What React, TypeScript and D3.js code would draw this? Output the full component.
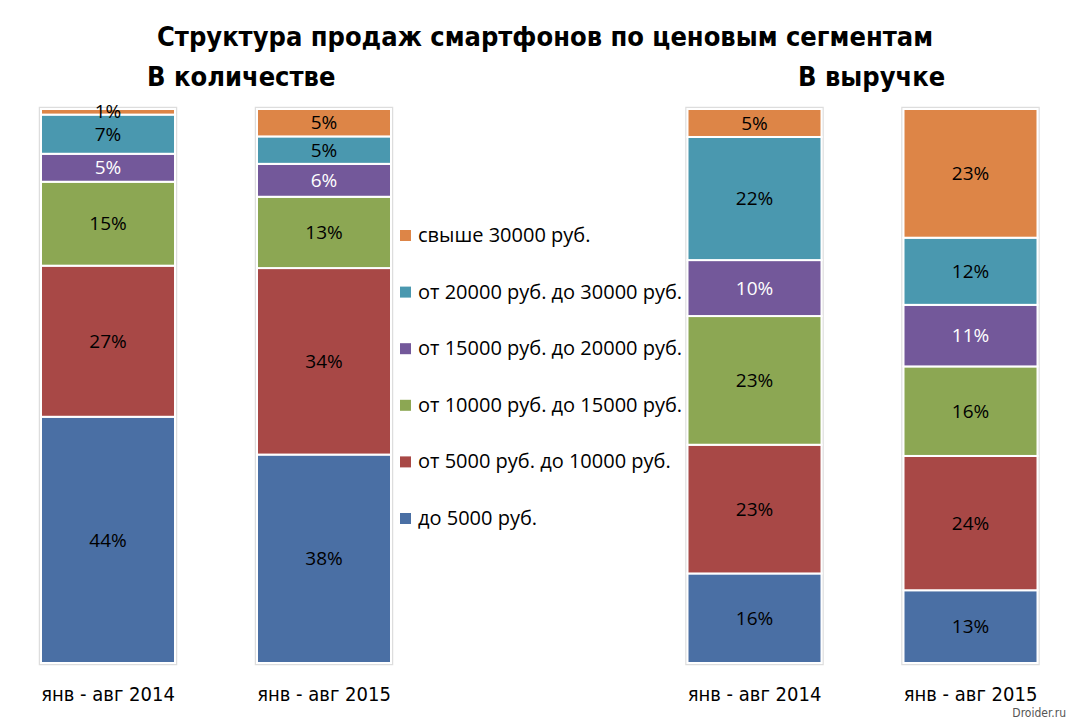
import React from "react";
import * as d3 from "d3";

const segments = ["до 5000 руб.", "от 5000 руб. до 10000 руб.", "от 10000 руб. до 15000 руб.", "от 15000 руб. до 20000 руб.", "от 20000 руб. до 30000 руб.", "свыше 30000 руб."];
const keys = ["s0", "s1", "s2", "s3", "s4", "s5"];
const colors = ["#4A6FA4", "#A84846", "#8CA753", "#73589A", "#4A98AF", "#DD8547"];
const labelColors = ["#000", "#000", "#000", "#fff", "#000", "#000"];
const periods = ["янв - авг 2014", "янв - авг 2015", "янв - авг 2014", "янв - авг 2015"];
const groups = ["qty", "qty", "rev", "rev"];
const vUnder5k = [44, 38, 16, 13];
const v5to10k = [27, 34, 23, 24];
const v10to15k = [15, 13, 23, 16];
const v15to20k = [5, 6, 10, 11];
const v20to30k = [7, 5, 22, 12];
const vOver30k = [1, 5, 5, 23];
const series = [vUnder5k, v5to10k, v10to15k, v15to20k, v20to30k, vOver30k];

const rows = periods.map((p, i) => {
  const r: any = { id: "b" + i, period: p, group: groups[i] };
  keys.forEach((k, j) => (r[k] = series[j][i]));
  return r;
});

export default function App() {
  const W = 1070, H = 722;
  const top = 109, bottom = 663;
  const bandCenters = [108, 324, 754.5, 970.5];
  const barW = 134;
  const x = d3.scaleOrdinal<string, number>().domain(rows.map((r) => r.id)).range(bandCenters);
  const y = d3.scaleLinear().domain([0, 1]).range([bottom, top]);
  const stack = d3.stack<any>().keys(keys).offset(d3.stackOffsetExpand);
  const stacked = stack(rows);
  const labelFont = "'Open Sans', 'Noto Sans', sans-serif";
  const condFont = "'Liberation Sans Narrow', 'DejaVu Sans Condensed', 'Roboto Condensed', sans-serif";
  const legendY = d3.scalePoint<string>().domain(segments.slice().reverse()).range([235, 518]);

  return (
    <svg width={W} height={H} style={{ position: "absolute", left: 0, top: 0, background: "#fff" }}>
      <rect width={W} height={H} fill="#fff" />
      <text x={545} y={46} textAnchor="middle" fontFamily={condFont} fontWeight="bold" fontSize={27} fill="#000">
        Структура продаж смартфонов по ценовым сегментам
      </text>
      <text x={147} y={86} fontFamily={condFont} fontWeight="bold" fontSize={27} fill="#000">В количестве</text>
      <text x={798} y={86} fontFamily={condFont} fontWeight="bold" fontSize={27} fill="#000">В выручке</text>

      {rows.map((r) => (
        <rect key={"sh" + r.id} x={x(r.id) - barW / 2 - 1.5} y={top - 1.5} width={barW + 3} height={bottom - top + 3}
          fill="none" stroke="#ddd" strokeWidth={1.5} />
      ))}
      {stacked.map((layer, li) => (
        <g key={layer.key}>
          {layer.map((d, bi) => {
            const r = rows[bi];
            const y0 = y(d[1]), y1 = y(d[0]);
            return (
              <rect key={r.id} x={x(r.id) - barW / 2} y={y0} width={barW} height={y1 - y0}
                fill={colors[li]} stroke="#fff" strokeWidth={2} />
            );
          })}
        </g>
      ))}
      {stacked.map((layer, li) => (
        <g key={"l" + layer.key}>
          {layer.map((d, bi) => {
            const r = rows[bi];
            const cy = (y(d[1]) + y(d[0])) / 2;
            return (
              <text key={r.id} x={x(r.id)} y={cy} dy="0.35em" textAnchor="middle" fontFamily={labelFont}
                fontSize={19} fill={labelColors[li]}>
                {series[li][bi]}%
              </text>
            );
          })}
        </g>
      ))}
      {rows.map((r) => (
        <text key={"p" + r.id} x={x(r.id)} y={701} textAnchor="middle" fontFamily={condFont} fontSize={20} fill="#000">
          {r.period}
        </text>
      ))}
      {segments.map((s, i) => (
        <g key={s} transform={`translate(400, ${legendY(s)})`}>
          <rect x={0} y={-5} width={11} height={11} fill={colors[i]} />
          <text x={18} y={0} dy="0.35em" fontFamily={labelFont} fontSize={20} fill="#000">{s}</text>
        </g>
      ))}
      <text x={1066} y={717} textAnchor="end" fontFamily={condFont} fontSize={12} fill="#555">Droider.ru</text>
    </svg>
  );
}
